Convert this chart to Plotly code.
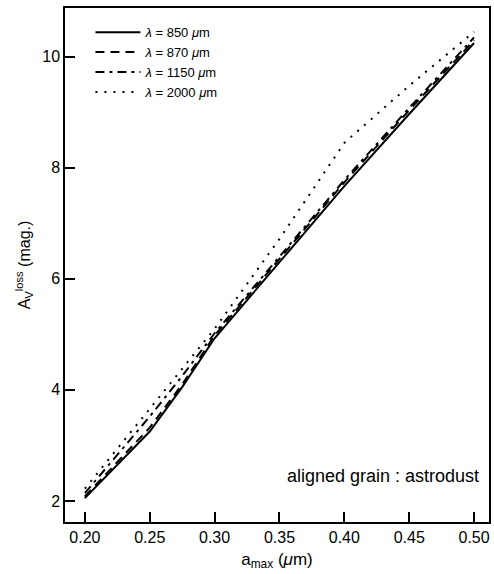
import plotly.graph_objects as go

a_max = [0.20, 0.25, 0.275, 0.30, 0.35, 0.40, 0.45, 0.50]
av_850 = [2.05, 3.25, 4.05, 4.93, 6.30, 7.67, 8.97, 10.25]
av_870 = [2.08, 3.32, 4.10, 4.98, 6.36, 7.74, 9.04, 10.30]
av_1150 = [2.14, 3.52, 4.25, 5.02, 6.40, 7.78, 9.08, 10.35]
av_2000 = [2.22, 3.66, 4.40, 5.10, 6.72, 8.45, 9.48, 10.45]

x_tick_start, x_tick_step = 0.20, 0.05
y_tick_start, y_tick_step = 0, 2

series = [
    ("<i>λ</i> = 850 <i>μ</i>m", av_850, "solid"),
    ("<i>λ</i> = 870 <i>μ</i>m", av_870, "9px,6px"),
    ("<i>λ</i> = 1150 <i>μ</i>m", av_1150, "9px,5px,3px,5px"),
    ("<i>λ</i> = 2000 <i>μ</i>m", av_2000, "2px,7px"),
]

fig = go.Figure()
for name, vals, dash in series:
    fig.add_trace(go.Scatter(x=a_max, y=vals, mode="lines", name=name,
                             line=dict(color="black", width=2, dash=dash)))

font_family = "Liberation Sans, Arial, sans-serif"
x_range = [0.1847, 0.5115]
y_range = [1.62, 10.88]

fig.update_layout(
    width=494, height=574,
    margin=dict(l=65, r=3, t=8, b=52),
    plot_bgcolor="white", paper_bgcolor="white",
    showlegend=True,
    legend=dict(x=0.06, y=0.982, xanchor="left", yanchor="top", bgcolor="rgba(0,0,0,0)",
                itemwidth=45,
                font=dict(size=13, color="black", family=font_family), tracegroupgap=0),
    xaxis=dict(
        range=x_range, tick0=x_tick_start, dtick=x_tick_step, tickformat=".2f",
        ticks="inside", ticklen=10, tickwidth=2, tickcolor="black",
        showline=True, linecolor="black", linewidth=1.5, mirror=True,
        showgrid=False, zeroline=False,
        tickfont=dict(size=16, color="black", family=font_family),
        title=dict(text="a<sub>max</sub> (<i>μ</i>m)", font=dict(size=17, color="black", family=font_family), standoff=8),
    ),
    yaxis=dict(
        range=y_range, tick0=y_tick_start, dtick=y_tick_step,
        ticks="inside", ticklen=10, tickwidth=2, tickcolor="black",
        showline=True, linecolor="black", linewidth=1.5, mirror=True,
        showgrid=False, zeroline=False,
        tickfont=dict(size=16, color="black", family=font_family),
        title=dict(text="A<sub>V</sub><sup>loss</sup> (mag.)", font=dict(size=16, color="black", family=font_family), standoff=8),
    ),
)

fig.add_annotation(x=0.98, y=0.09, xref="paper", yref="paper", xanchor="right", yanchor="middle",
                   text="aligned grain : astrodust", showarrow=False,
                   font=dict(size=18, color="black", family=font_family))

fig.write_html("out.html")
